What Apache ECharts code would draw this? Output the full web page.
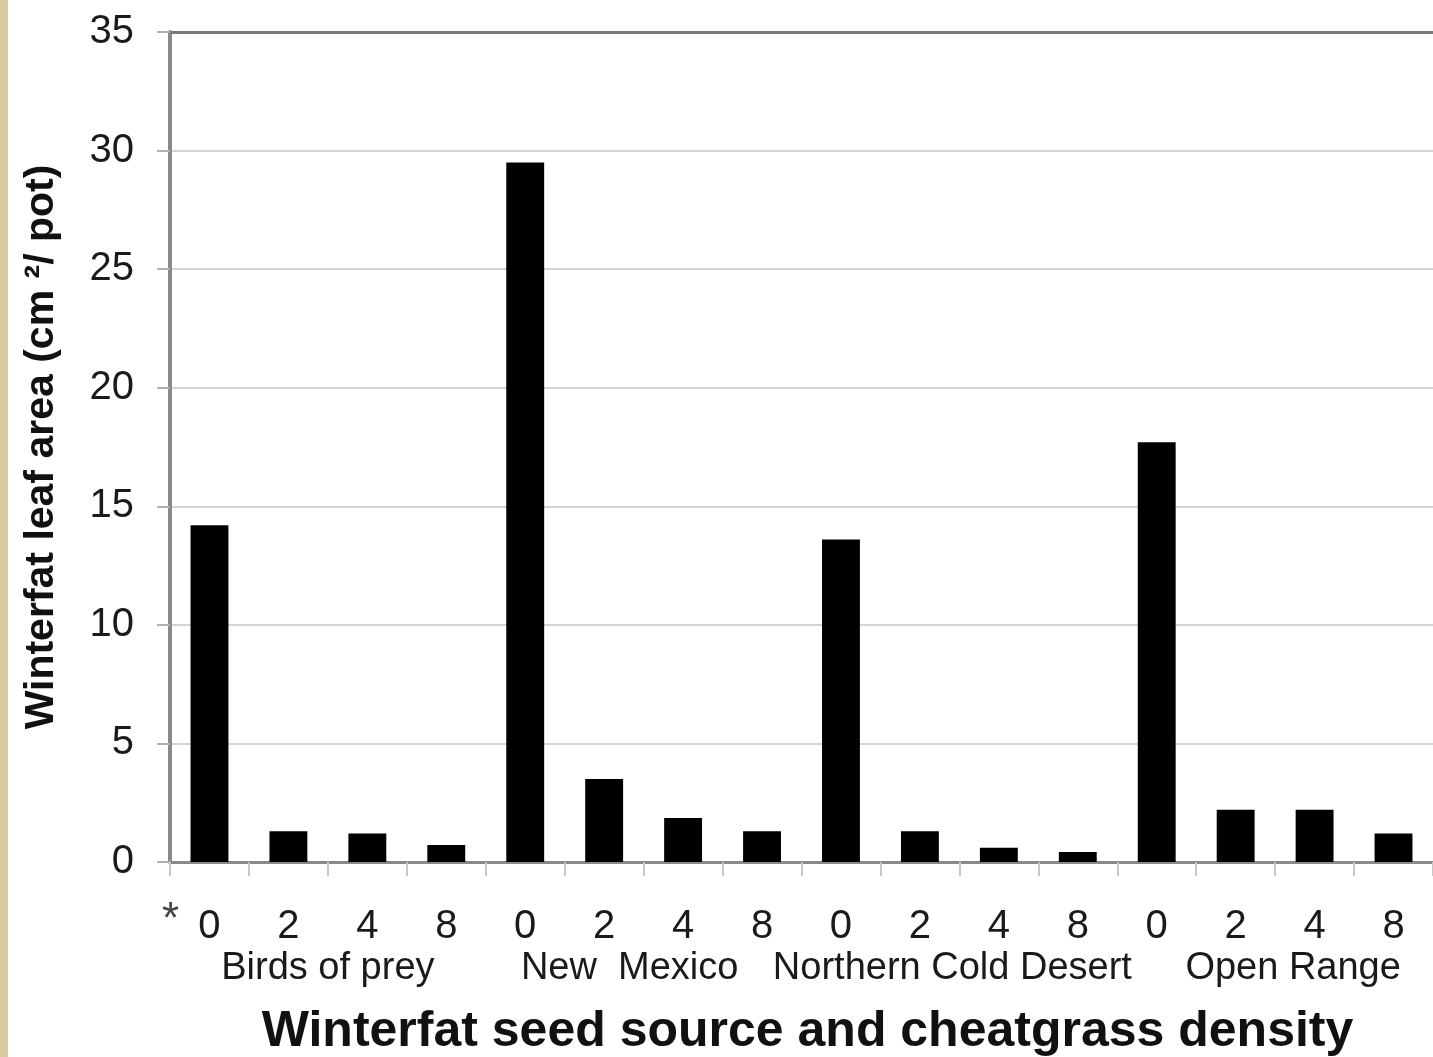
<!DOCTYPE html>
<html>
<head>
<meta charset="utf-8">
<script src="https://cdn.jsdelivr.net/npm/echarts@6/dist/echarts.min.js"></script>
<style>
html,body{margin:0;padding:0;background:#fff;}
#chart{width:1433px;height:1057px;}
</style>
</head>
<body>
<div id="chart"></div>
<script>
var densities = ['0','2','4','8','0','2','4','8','0','2','4','8','0','2','4','8'];
var groups = ['Birds of prey','New  Mexico','Northern Cold Desert','Open Range'];
var leafArea = [14.2, 1.3, 1.2, 0.72, 29.5, 3.5, 1.86, 1.3, 13.6, 1.3, 0.6, 0.42, 17.7, 2.2, 2.2, 1.2];
var yTicks = [0, 5, 10, 15, 20, 25, 30, 35];

var font = '"Liberation Sans", Arial, sans-serif';
var groupRich = {
  g0: {fontFamily: font, fontSize: 38, color: '#1a1a1a'},
  g1: {fontFamily: font, fontSize: 38, color: '#1a1a1a', padding: [0, 28, 0, 0]},
  g2: {fontFamily: font, fontSize: 38, color: '#1a1a1a', padding: [0, 14, 0, 0]},
  g3: {fontFamily: font, fontSize: 38, color: '#1a1a1a', padding: [0, 0, 0, 36]}
};
var chart = echarts.init(document.getElementById('chart'));
chart.setOption({
  backgroundColor: '#ffffff',
  animation: false,
  grid: {left: 170, right: 0, top: 32, bottom: 195, outerBoundsMode: 'none', containLabel: false},
  xAxis: [
    {
      type: 'category', data: densities, position: 'bottom',
      axisLine: {lineStyle: {color: '#8a8a8a', width: 3}},
      axisTick: {show: true, length: 14, lineStyle: {color: '#c8c8c8', width: 2}},
      axisLabel: {fontFamily: font, fontSize: 40, color: '#1a1a1a', margin: 45, interval: 0}
    },
    {
      type: 'category', data: groups, position: 'bottom',
      axisLine: {show: false}, axisTick: {show: false},
      axisLabel: {
        fontFamily: font, fontSize: 38, color: '#1a1a1a', margin: 88, interval: 0,
        rich: groupRich,
        formatter: function (v, i) { return '{g' + i + '|' + v + '}'; }
      },
      name: 'Winterfat seed source and cheatgrass density',
      nameLocation: 'middle', nameGap: 145,
      nameTextStyle: {fontFamily: font, fontSize: 50, fontWeight: 'bold', color: '#111', padding: [0, 0, 0, 12]}
    },
    {
      type: 'category', data: densities, position: 'top',
      axisLine: {show: true, lineStyle: {color: '#7a7a7a', width: 3}},
      axisTick: {show: false}, axisLabel: {show: false}
    }
  ],
  yAxis: {
    type: 'value', min: 0, max: 35, interval: 5,
    axisLine: {show: true, lineStyle: {color: '#8a8a8a', width: 4}},
    axisTick: {show: true, length: 13, lineStyle: {color: '#b0b0b0', width: 2}},
    axisLabel: {
      fontFamily: font, fontSize: 40, color: '#1a1a1a', margin: 36,
      formatter: function (v) { return yTicks.indexOf(v) >= 0 ? String(v) : ''; }
    },
    splitLine: {show: true, lineStyle: {color: '#d4d4d4', width: 2}},
    name: 'Winterfat leaf area (cm \u00B2/ pot)',
    nameLocation: 'middle', nameGap: 108,
    nameTextStyle: {fontFamily: font, fontSize: 41, fontWeight: 'bold', color: '#111'}
  },
  series: [{
    type: 'bar', xAxisIndex: 0, data: leafArea, barWidth: '48%',
    itemStyle: {color: '#000000'}
  }],
  graphic: [
    {type: 'rect', left: 0, top: 0, shape: {width: 8, height: 1057}, style: {fill: '#d8cba4'}},
    {type: 'text', left: 162, top: 899, style: {text: '*', font: '44px "Liberation Sans", Arial, sans-serif', fill: '#444'}}
  ]
});
</script>
</body>
</html>
